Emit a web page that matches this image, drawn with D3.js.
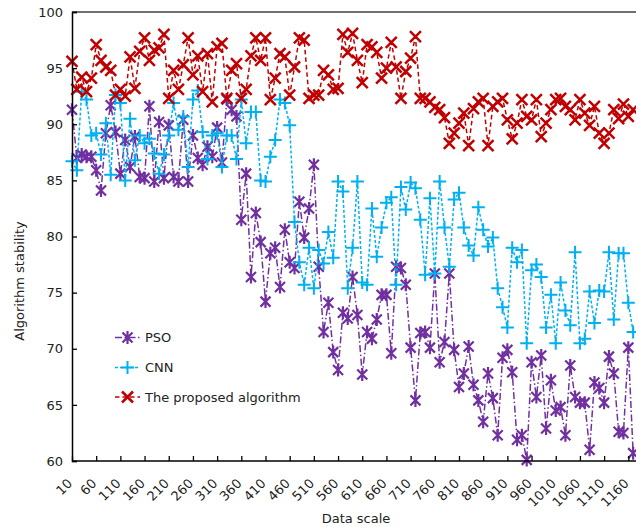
<!DOCTYPE html>
<html>
<head>
<meta charset="utf-8">
<script src="https://cdn.jsdelivr.net/npm/d3@7/dist/d3.min.js"></script>
<style>
  body { margin: 0; background: #fff; }
  svg { display: block; font-family: "DejaVu Sans", Verdana, sans-serif; }
</style>
</head>
<body>
<svg width="636" height="527"></svg>
<script>
const width = 636;
const height = 527;

// data scale, every 10 units
const dataScale = d3.range(10, 1171, 10);
const xTickLabels = [10, 60, 110, 160, 210, 260, 310, 360, 410, 460, 510, 560, 610, 660, 710, 760, 810, 860, 910, 960, 1010, 1060, 1110, 1160];
const yTickLabels = [60, 65, 70, 75, 80, 85, 90, 95, 100];

const pso = [
  91.3, 87.0, 87.3, 87.1, 87.1, 85.9, 84.1, 89.2, 91.7, 89.3,
  85.6, 88.6, 86.2, 88.9, 85.3, 85.2, 91.6, 84.9, 90.2, 85.2,
  89.9, 85.3, 84.9, 90.4, 84.9, 89.0, 87.0, 86.4, 88.0, 87.1,
  89.7, 86.6, 92.2, 91.3, 90.7, 81.5, 85.6, 76.4, 82.1, 79.5,
  74.2, 78.5, 79.0, 75.5, 80.6, 77.7, 77.2, 83.1, 79.9, 82.5,
  86.4, 77.3, 71.5, 74.1, 69.7, 68.1, 73.2, 72.7, 76.4, 73.0,
  67.7, 71.5, 70.9, 72.6, 74.8, 74.8, 69.6, 77.3, 77.2, 75.7,
  70.1, 65.4, 71.4, 71.5, 70.1, 76.7, 68.8, 70.6, 76.7,
  69.9, 66.6, 67.8, 70.2, 66.8, 65.4, 63.5, 67.8, 65.6, 62.3,
  69.2, 69.9, 67.9, 61.9, 62.3, 60.1, 68.8, 65.7, 69.4, 62.9,
  67.2, 64.5, 64.8, 62.3, 68.5, 65.7, 65.2, 65.2, 61.0, 67.0,
  66.5, 65.2, 69.3, 67.8, 62.6, 62.5, 70.1, 60.7
];

const cnn = [
  86.7, 85.9, 92.9, 92.2, 89.0, 89.2, 87.3, 90.1, 85.5, 92.6,
  91.9, 85.0, 90.5, 86.8, 89.0, 88.3, 88.7, 87.4, 85.6, 87.3,
  89.0, 91.9, 89.5, 90.7, 86.2, 92.2, 93.0, 89.3, 86.9, 89.0,
  89.2, 86.2, 89.0, 89.0, 86.9, 92.2, 88.3, 91.1, 91.1, 85.0,
  84.9, 87.1, 88.6, 92.2, 91.9, 89.9, 81.3, 77.7, 75.7, 79.0,
  75.4, 78.8, 77.6, 80.4, 78.1, 84.9, 84.0, 75.4, 79.0, 84.9,
  75.9, 75.7, 82.5, 78.2, 80.8, 83.0, 83.5, 75.7, 84.4, 82.4,
  84.8, 84.3, 81.5, 76.6, 83.4, 76.7, 84.9, 80.8, 77.3,
  83.3, 83.9, 80.8, 79.2, 78.3, 82.6, 80.6, 79.1, 79.9, 75.4,
  73.7, 71.9, 79.0, 77.7, 78.8, 70.5, 77.0, 77.5, 76.4, 71.9,
  74.8, 70.5, 75.9, 73.4, 72.1, 78.6, 70.5, 70.9, 75.1, 72.3,
  75.2, 75.1, 78.6, 72.6, 78.5, 78.5, 74.1, 71.5
];

const proposed = [
  95.6, 93.1, 94.2, 92.9, 94.1, 97.1, 95.7, 95.1, 94.8, 92.6,
  93.1, 92.5, 96.0, 93.2, 96.5, 97.7, 95.7, 96.6, 96.8, 98.0,
  92.3, 94.8, 93.1, 95.3, 97.7, 94.4, 96.1, 92.9, 96.3, 92.0,
  96.9, 97.2, 92.3, 94.8, 95.4, 92.3, 93.1, 96.1, 97.7, 95.7,
  97.7, 92.2, 94.1, 96.3, 96.0, 92.6, 95.1, 97.7, 97.5, 92.3,
  92.6, 92.6, 94.8, 94.4, 93.1, 93.2, 98.0, 96.4, 98.1, 95.7,
  93.7, 97.1, 96.9, 96.4, 94.1, 95.0, 97.3, 95.1, 92.3, 94.7,
  95.9, 97.8, 92.3, 92.3, 92.0, 91.5, 91.3, 90.6, 88.3,
  89.2, 90.1, 91.0, 88.1, 91.4, 92.0, 92.3, 88.1, 91.6, 92.0,
  92.3, 90.4, 88.7, 90.1, 92.2, 90.7, 90.4, 92.2, 88.9, 90.1,
  91.3, 92.2, 92.3, 91.6, 91.3, 90.4, 92.2, 91.0, 89.9, 91.6,
  89.2, 88.3, 89.2, 91.3, 90.5, 91.8, 90.7, 91.3
];

const seriesNames = ["PSO", "CNN", "The proposed algorithm"];

const plotLeft = 72, plotTop = 12, plotBottom = 461;

const x = d3.scaleLinear().domain([10, 1160]).range([plotLeft, 628.3]);
const y = d3.scaleLinear().domain([60, 100]).range([plotBottom, plotTop]);

const svg = d3.select("svg");

const styles = [
  { color: "#7030A0", dash: "7,2.5,1.5,2.5", marker: "M0,-6.5V6.5M-5,-5L5,5M-5,5L5,-5", mw: 2.2 },
  { color: "#00B0F0", dash: "3,2", marker: "M-6.5,0H6.5M0,-6.5V6.5", mw: 2 },
  { color: "#C00000", dash: "4.5,3", marker: "M-5.5,-5.5L5.5,5.5M-5.5,5.5L5.5,-5.5", mw: 2.5 }
];
const allSeries = [pso, cnn, proposed];

// frame: top border, no right border
svg.append("line")
  .attr("x1", plotLeft).attr("x2", width)
  .attr("y1", plotTop).attr("y2", plotTop)
  .attr("stroke", "#404040").attr("stroke-width", 1.5);

const line = d3.line()
  .x((d, i) => x(dataScale[i]))
  .y(d => y(d));

allSeries.forEach((vals, s) => {
  const st = styles[s];
  const g = svg.append("g");
  g.append("path")
    .datum(vals)
    .attr("fill", "none")
    .attr("stroke", st.color)
    .attr("stroke-width", 1.5)
    .attr("stroke-dasharray", st.dash)
    .attr("d", line);
  g.selectAll("path.mk")
    .data(vals)
    .enter().append("path")
    .attr("class", "mk")
    .attr("transform", (d, i) => `translate(${x(dataScale[i])},${y(d)})`)
    .attr("d", st.marker)
    .attr("fill", "none")
    .attr("stroke", st.color)
    .attr("stroke-width", st.mw);
});

// y axis
const yAxis = svg.append("g")
  .attr("transform", `translate(${plotLeft},0)`)
  .call(d3.axisLeft(y).tickValues(yTickLabels).tickSize(-5).tickPadding(9));
yAxis.select(".domain").attr("stroke", "#000").attr("stroke-width", 1.5);
yAxis.selectAll(".tick line").attr("stroke", "#000").attr("stroke-width", 1.3);
yAxis.selectAll("text").attr("font-size", 13).attr("fill", "#222")
  .attr("font-family", "DejaVu Sans, sans-serif");

// x axis
const xAxis = svg.append("g")
  .attr("transform", `translate(0,${plotBottom})`)
  .call(d3.axisBottom(x).tickValues(xTickLabels).tickSize(-5).tickFormat(d3.format("d")));
xAxis.select(".domain").attr("stroke", "#000").attr("stroke-width", 1.5)
  .attr("d", `M${plotLeft},0H${width}`);
xAxis.selectAll(".tick line").attr("stroke", "#000").attr("stroke-width", 1.3);
xAxis.selectAll("text")
  .attr("font-size", 13).attr("fill", "#222")
  .attr("font-family", "DejaVu Sans, sans-serif")
  .attr("text-anchor", "end")
  .attr("dy", "0.35em")
  .attr("transform", "translate(-2.5,20) rotate(-45)")
  .attr("y", 0).attr("x", 0);

// axis titles
svg.append("text")
  .attr("transform", "translate(24,281) rotate(-90)")
  .attr("text-anchor", "middle")
  .attr("font-size", 13).attr("fill", "#222")
  .text("Algorithm stability");

svg.append("text")
  .attr("x", 356).attr("y", 523)
  .attr("text-anchor", "middle")
  .attr("font-size", 13).attr("fill", "#222")
  .text("Data scale");

// legend
const legendY = [337.5, 367.5, 397];
seriesNames.forEach((name, s) => {
  const st = styles[s];
  const g = svg.append("g").attr("transform", `translate(0,${legendY[s]})`);
  g.append("line")
    .attr("x1", 115).attr("x2", 140)
    .attr("stroke", st.color).attr("stroke-width", 1.5)
    .attr("stroke-dasharray", st.dash);
  g.append("path")
    .attr("transform", "translate(127.5,0)")
    .attr("d", st.marker)
    .attr("fill", "none").attr("stroke", st.color).attr("stroke-width", st.mw);
  g.append("text")
    .attr("x", 145).attr("dy", "0.35em")
    .attr("font-size", 13).attr("fill", "#222")
    .text(name);
});
</script>
</body>
</html>
